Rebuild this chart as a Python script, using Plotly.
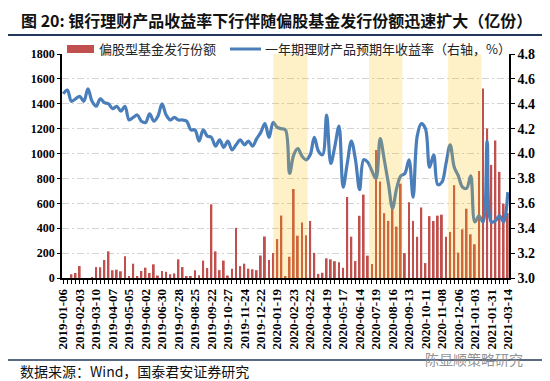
import pandas as pd
import plotly.graph_objects as go

# ---------------- data ----------------
excluded_weeks = ['2019-02-10', '2019-10-06', '2020-01-26', '2020-06-28', '2021-02-14', '2021-02-21']
all_weeks = pd.date_range('2019-01-06', '2021-03-14', freq='7D').strftime('%Y-%m-%d').tolist()
categories = [d for d in all_weeks if d not in excluded_weeks]
tick_labels = categories[::4]

# 偏股型基金发行份额（亿份）
fund_issuance = [
    0, 0, 30, 40, 96, 0, 0, 8, 88, 86,
    145, 214, 62, 67, 54, 174, 10, 115, 12, 56,
    83, 40, 110, 20, 57, 50, 30, 37, 150, 88,
    15, 16, 63, 22, 140, 80, 592, 214, 63, 140,
    20, 75, 403, 96, 115, 75, 70, 63, 181, 333,
    145, 201, 313, 502, 12, 171, 715, 340, 445, 343,
    458, 202, 33, 42, 158, 150, 135, 126, 82, 651,
    332, 136, 500, 670, 180, 113, 1029, 775, 521, 459,
    600, 413, 758, 200, 609, 459, 331, 567, 120, 497,
    458, 501, 509, 331, 370, 746, 204, 391, 557, 351,
    271, 860, 1522, 1201, 909, 1105, 853, 597, 522,
]

# 一年期理财产品预期年收益率（%）
wmp_yield = [
    4.48, 4.51, 4.42, 4.44, 4.46, 4.42, 4.52, 4.42, 4.38, 4.44,
    4.41, 4.40, 4.36, 4.38, 4.34, 4.38, 4.27, 4.29, 4.31, 4.26,
    4.25, 4.32, 4.26, 4.30, 4.40, 4.31, 4.27, 4.29, 4.27, 4.27,
    4.26, 4.19, 4.19, 4.10, 4.19, 4.14, 4.13, 4.06, 4.11, 4.05,
    4.10, 4.03, 4.07, 4.11, 4.07, 4.10, 4.06, 4.12, 4.17, 4.24,
    4.13, 4.25, 4.21, 4.20, 4.19, 3.84, 3.99, 4.04, 3.98, 3.95,
    3.99, 4.13, 4.02, 3.99, 4.31, 3.92, 4.06, 4.22, 3.73, 3.92,
    4.10, 3.95, 3.71, 3.95, 3.93, 3.86, 3.80, 4.12, 3.95, 3.76,
    3.56, 3.72, 3.82, 3.84, 3.95, 3.65, 4.14, 4.24, 4.20, 3.89,
    3.99, 3.75, 3.77, 3.92, 4.07, 3.89, 3.82, 3.73, 3.72, 3.82,
    3.45, 3.50, 3.45, 4.10, 3.45, 3.46, 3.50, 3.45, 3.69,
]

# shaded periods, in category-index units
band_periods = [(51.0, 59.35), (74.3, 82.4), (93.5, 101.6)]

bar_name = '偏股型基金发行份额'
line_name = '一年期理财产品预期年收益率（右轴，%）'
title_text = '图 20: 银行理财产品收益率下行伴随偏股基金发行份额迅速扩大（亿份）'
source_text = '数据来源：Wind，国泰君安证券研究'
watermark_text = '陈显顺策略研究'

# ---------------- styling ----------------
RED = '#C0504D'
BLUE = '#4A7EBB'
NAVY = '#23395B'
PAGE_W, PAGE_H = 550, 381
BODY_OFFSET = 8                      # default page margin around the plot div
W, H = PAGE_W - BODY_OFFSET, PAGE_H - BODY_OFFSET
# plot area in page pixels
PL, PR, PT, PB = 62, 509, 54, 278
CJK = 'Noto Sans CJK SC'
SERIF = 'Liberation Serif'


def ax(px):
    return (px - PL) / (PR - PL)


def ay(py):
    return (PB - py) / (PB - PT)


fig = go.Figure()
fig.add_trace(go.Bar(x=categories, y=fund_issuance, name=bar_name,
                     marker=dict(color=RED, line=dict(width=0)),
                     showlegend=False, yaxis='y'))
fig.add_trace(go.Scatter(x=categories, y=wmp_yield, name=line_name, mode='lines',
                         line=dict(color=BLUE, width=3.2, shape='spline', smoothing=1.0),
                         showlegend=False, yaxis='y2'))

shapes = []
for x0, x1 in band_periods:
    shapes.append(dict(type='rect', xref='x', yref='paper', x0=x0, x1=x1, y0=0, y1=1,
                       fillcolor='rgba(255,192,0,0.22)', line=dict(width=0), layer='above'))
# title rule & bottom rule
shapes.append(dict(type='line', xref='paper', yref='paper', x0=ax(8), x1=ax(550),
                   y0=ay(35), y1=ay(35), line=dict(color=NAVY, width=2)))
shapes.append(dict(type='line', xref='paper', yref='paper', x0=ax(8), x1=ax(550),
                   y0=ay(360), y1=ay(360), line=dict(color=NAVY, width=1.5)))
# legend symbols
shapes.append(dict(type='rect', xref='paper', yref='paper', x0=ax(67), x1=ax(94),
                   y0=ay(53), y1=ay(45), fillcolor=RED, line=dict(width=0)))
shapes.append(dict(type='line', xref='paper', yref='paper', x0=ax(230), x1=ax(261),
                   y0=ay(49), y1=ay(49), line=dict(color=BLUE, width=3)))

annotations = [
    dict(text=f'<b>{title_text}</b>', x=ax(19), y=ay(20), xref='paper', yref='paper',
         xanchor='left', yanchor='middle', showarrow=False,
         font=dict(family=CJK, size=16, color='#111111')),
    dict(text=bar_name, x=ax(97), y=ay(49), xref='paper', yref='paper',
         xanchor='left', yanchor='middle', showarrow=False,
         font=dict(family=CJK, size=13, color='#222222')),
    dict(text=line_name, x=ax(263), y=ay(49), xref='paper', yref='paper',
         xanchor='left', yanchor='middle', showarrow=False,
         font=dict(family=CJK, size=13, color='#222222')),
    dict(text=source_text, x=ax(18), y=ay(371), xref='paper', yref='paper',
         xanchor='left', yanchor='middle', showarrow=False,
         font=dict(family=CJK, size=14, color='#111111')),
    dict(text=watermark_text, x=ax(423), y=ay(359), xref='paper', yref='paper',
         xanchor='left', yanchor='middle', showarrow=False,
         font=dict(family=CJK, size=14, color='rgba(140,140,140,0.95)')),
]

ticktext = [c if c in tick_labels else '' for c in categories]

fig.update_layout(
    template='none',
    width=W, height=H,
    margin=dict(l=PL - BODY_OFFSET, r=PAGE_W - PR, t=PT - BODY_OFFSET, b=PAGE_H - PB,
                pad=0, autoexpand=False),
    paper_bgcolor='white', plot_bgcolor='white',
    bargap=0.55,
    shapes=shapes, annotations=annotations,
    xaxis=dict(type='category', range=[-0.3, len(categories) - 0.7], automargin=False,
               tickmode='array', tickvals=categories, ticktext=ticktext,
               tickangle=-90, ticks='outside', ticklen=4, tickwidth=1, tickcolor='black',
               showline=True, linecolor='black', linewidth=1.5, showgrid=False,
               tickfont=dict(family=SERIF, size=13, color='black', weight='bold')),
    yaxis=dict(range=[0, 1800], tick0=0, dtick=200, showgrid=True, automargin=False,
               gridcolor='#D3D3D3', gridwidth=1, griddash='7px,3px,2px,3px',
               showline=True, linecolor='black', linewidth=1.5, zeroline=False,
               ticks='outside', ticklen=3, tickcolor='black',
               tickfont=dict(family=SERIF, size=12, color='black', weight='bold')),
    yaxis2=dict(range=[3.0, 4.8], tick0=3.0, dtick=0.2, tickformat='.1f', automargin=False,
                overlaying='y', side='right', showgrid=False, zeroline=False,
                showline=True, linecolor='black', linewidth=1.5,
                ticks='outside', ticklen=4, tickcolor='black',
                tickfont=dict(family=SERIF, size=14, color='black', weight='bold')),
)

fig.write_html('out.html')
